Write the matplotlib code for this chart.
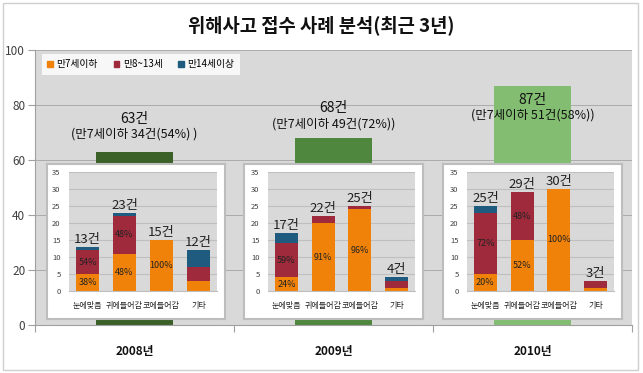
import matplotlib
matplotlib.use("Agg")
import matplotlib.pyplot as plt
import matplotlib.patches as mpatches
import numpy as np

plt.rcParams['font.family'] = ['Noto Sans CJK KR', 'DejaVu Sans']

# ---------------- data ----------------
years = ['2008년', '2009년', '2010년']
totals = [63, 68, 87]
total_labels = ['63건', '68건', '87건']
sub_labels = ['(만7세이하 34건(54%) )', '(만7세이하 49건(72%))', '(만7세이하 51건(58%))']
main_colors = ['#3b6129', '#4f873f', '#82bd72']

categories = ['눈에맞음', '귀에들어감', '코에들어감', '기타']
age_groups = ['만7세이하', '만8~13세', '만14세이상']
age_colors = ['#f08209', '#9e2a3c', '#1f5b7e']

under7 = [[5, 11, 15, 3], [4, 20, 24, 1], [5, 15, 30, 1]]
age8_13 = [[7, 11, 0, 4], [10, 2, 1, 2], [18, 14, 0, 2]]
age14 = [[1, 1, 0, 5], [3, 0, 0, 1], [2, 0, 0, 0]]
cat_totals = [[13, 23, 15, 12], [17, 22, 25, 4], [25, 29, 30, 3]]
pct_under7 = [['38%', '48%', '100%', ''], ['24%', '91%', '96%', ''], ['20%', '52%', '100%', '']]
pct_8_13 = [['54%', '48%', '', ''], ['59%', '', '', ''], ['72%', '48%', '', '']]

# layout (label heights in main-axis units)
label_y1 = [75, 79, 81.9]
label_y2 = [69.6, 73.2, 76.4]

W, H = 643, 373
fig = plt.figure(figsize=(W / 100, H / 100), dpi=100)
fig.patch.set_facecolor('white')

def fx(px):
    return px / W

def fy(py):
    return 1 - py / H

# outer frame
fig.patches.append(mpatches.Rectangle((fx(3), fy(370)), fx(635), 367 / H, transform=fig.transFigure,
                                      fill=False, edgecolor='#cfcfcf', linewidth=1.0))

fig.text(0.5, fy(25), '위해사고 접수 사례 분석(최근 3년)', ha='center', va='center',
         fontsize=13.5, fontweight='bold', color='#111111')

# main axes
ax = fig.add_axes([fx(35), fy(325), fx(632 - 35), (325 - 50) / H])
ax.set_facecolor('#d9d9d9')
x = np.arange(len(years))
ax.bar(x, totals, width=0.39, color=main_colors, zorder=2)
ax.set_xlim(-0.5, 2.5)
ax.set_ylim(0, 100)
ax.set_yticks([0, 20, 40, 60, 80, 100])
ax.yaxis.grid(True, color='#ababab', linewidth=0.7, zorder=1)
ax.set_axisbelow(True)
ax.set_xticks([-0.5, 0.5, 1.5, 2.5])
ax.set_xticklabels([])
ax.tick_params(axis='x', length=5, color='#a0a0a0', direction='out')
ax.tick_params(axis='y', length=5, color='#a0a0a0', labelsize=8.5, labelcolor='#404040', pad=2)
for s in ['top', 'right']:
    ax.spines[s].set_visible(False)
for s in ['left', 'bottom']:
    ax.spines[s].set_color('#a0a0a0')
for i in range(len(years)):
    ax.text(x[i], -9.5, years[i], ha='center', va='center', fontsize=8.5, fontweight='bold',
            color='#111111')
    ax.text(x[i], label_y1[i], total_labels[i], ha='center', va='center', fontsize=10, color='#111111', zorder=5)
    ax.text(x[i], label_y2[i], sub_labels[i], ha='center', va='center', fontsize=9, color='#111111', zorder=5)

# legend
handles = [mpatches.Patch(color=c, label=l) for c, l in zip(age_colors, age_groups)]
leg = fig.legend(handles=handles, loc='upper left', bbox_to_anchor=(fx(42), fy(54)), ncol=3,
                 fontsize=7, frameon=True, fancybox=False, handlelength=0.55, handleheight=0.55,
                 handletextpad=0.4, columnspacing=1.6, borderpad=0.55, borderaxespad=0)
leg.get_frame().set_facecolor('white')
leg.get_frame().set_edgecolor('white')
leg.get_frame().set_linewidth(0)

# insets
panels = [(47, 225, 69, 217), (244, 423, 268, 415), (443, 622, 467, 614)]
for k, (p0, p1, i0, i1) in enumerate(panels):
    pax = fig.add_axes([fx(p0), fy(319), fx(p1 - p0), (319 - 164) / H])
    pax.set_facecolor('white')
    pax.set_xticks([])
    pax.set_yticks([])
    for s in pax.spines.values():
        s.set_color('#bdbdbd')
        s.set_linewidth(1.5)

    iax = fig.add_axes([fx(i0), fy(291), fx(i1 - i0), (291 - 172) / H])
    iax.set_facecolor('#d9d9d9')
    cx = np.arange(len(categories))
    a = np.array(under7[k])
    b = np.array(age8_13[k])
    c = np.array(age14[k])
    bw = 0.62
    iax.bar(cx, a, width=bw, color=age_colors[0], zorder=2)
    iax.bar(cx, b, width=bw, bottom=a, color=age_colors[1], zorder=2)
    iax.bar(cx, c, width=bw, bottom=a + b, color=age_colors[2], zorder=2)
    iax.set_xlim(-0.5, 3.5)
    iax.set_ylim(0, 35)
    iax.set_yticks(range(0, 36, 5))
    iax.yaxis.grid(True, color='#bfbfbf', linewidth=0.8, zorder=1)
    iax.set_axisbelow(True)
    iax.set_xticks(cx)
    iax.set_xticklabels(categories, fontsize=5.8, color='#222222')
    iax.tick_params(axis='x', length=0, pad=7)
    iax.tick_params(axis='y', length=0, labelsize=5.5, labelcolor='#404040', pad=6)
    for s in iax.spines.values():
        s.set_visible(False)
    iax.spines['bottom'].set_visible(True)
    iax.spines['bottom'].set_color('#bfbfbf')
    for j in range(len(categories)):
        iax.text(cx[j], cat_totals[k][j] + 0.3, f'{cat_totals[k][j]}건', ha='center', va='bottom',
                 fontsize=9.5, color='#222222', zorder=5)
        if pct_under7[k][j]:
            iax.text(cx[j], a[j] / 2, pct_under7[k][j], ha='center', va='center', fontsize=6.5,
                     color='#222222', zorder=5)
        if pct_8_13[k][j]:
            iax.text(cx[j], a[j] + b[j] / 2, pct_8_13[k][j], ha='center', va='center', fontsize=6.5,
                     color='#222222', zorder=5)

fig.savefig('out.png', dpi=100, facecolor='white')
